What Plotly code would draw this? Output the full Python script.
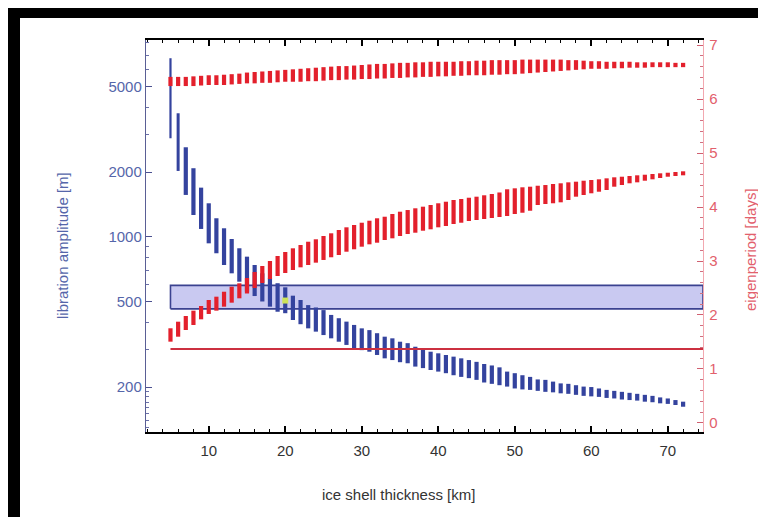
import plotly.graph_objects as go

# ---------------- data ----------------
thickness_km = list(range(5, 73))

# libration amplitude ranges [m] (left, log axis)
libration_hi = [6765, 3752, 2607, 2083, 1692, 1431, 1219, 1095, 976, 884,
                808, 739, 676, 641, 608, 582, 532, 508, 481, 469,
                456, 433, 418, 403, 389, 375, 368, 356, 343, 337,
                325, 320, 308, 303, 292, 287, 282, 277, 272, 267,
                262, 256, 252, 247, 236, 232, 227, 223, 217, 216,
                212, 208, 207, 204, 201, 200, 197, 194, 192, 190,
                188, 186, 184, 182, 179, 177, 174, 171]
libration_lo = [2871, 2023, 1565, 1262, 1087, 932, 838, 739, 676, 618,
                555, 530, 500, 473, 448, 441, 410, 392, 375, 362,
                349, 337, 325, 314, 303, 297, 292, 282, 272, 267,
                261, 258, 249, 245, 240, 236, 232, 227, 223, 220,
                216, 210, 207, 204, 201, 197, 195, 194, 192, 190,
                189, 187, 186, 184, 182, 181, 180, 178, 177, 175,
                174, 173, 171, 170, 168, 167, 165, 162]

# eigenperiod ranges [days] (right axis) - lower branch
period_low_hi = [1.754, 1.876, 1.981, 2.080, 2.167, 2.278, 2.339, 2.431, 2.524, 2.587,
                 2.685, 2.796, 2.907, 3.000, 3.093, 3.167, 3.235, 3.296, 3.357, 3.402,
                 3.463, 3.513, 3.574, 3.624, 3.667, 3.709, 3.746, 3.791, 3.820, 3.870,
                 3.913, 3.944, 3.976, 4.006, 4.037, 4.069, 4.098, 4.130, 4.148, 4.172,
                 4.191, 4.217, 4.241, 4.269, 4.328, 4.346, 4.365, 4.376, 4.394, 4.407,
                 4.426, 4.439, 4.457, 4.469, 4.487, 4.500, 4.513, 4.531, 4.550, 4.561,
                 4.574, 4.587, 4.598, 4.611, 4.624, 4.635, 4.648, 4.661]
period_low_lo = [1.506, 1.598, 1.722, 1.815, 1.920, 2.019, 2.080, 2.154, 2.228, 2.309,
                 2.398, 2.500, 2.593, 2.667, 2.722, 2.778, 2.833, 2.883, 2.926, 2.969,
                 3.019, 3.069, 3.111, 3.172, 3.217, 3.265, 3.309, 3.339, 3.389, 3.420,
                 3.463, 3.500, 3.524, 3.561, 3.587, 3.624, 3.648, 3.685, 3.709, 3.741,
                 3.759, 3.778, 3.796, 3.815, 3.833, 3.870, 3.894, 3.931, 4.037, 4.056,
                 4.069, 4.087, 4.130, 4.191, 4.222, 4.254, 4.283, 4.315, 4.376, 4.407,
                 4.439, 4.457, 4.487, 4.513, 4.537, 4.561, 4.574, 4.587]

# eigenperiod ranges [days] (right axis) - upper branch
period_up_hi = [6.41, 6.41, 6.41, 6.42, 6.43, 6.44, 6.44, 6.45, 6.46, 6.47,
                6.49, 6.50, 6.51, 6.52, 6.53, 6.54, 6.55, 6.56, 6.57, 6.58,
                6.59, 6.60, 6.61, 6.61, 6.62, 6.63, 6.64, 6.65, 6.65, 6.66,
                6.67, 6.67, 6.68, 6.68, 6.69, 6.69, 6.69, 6.69, 6.70, 6.70,
                6.71, 6.71, 6.72, 6.72, 6.72, 6.72, 6.73, 6.73, 6.73, 6.73,
                6.73, 6.73, 6.72, 6.72, 6.71, 6.70, 6.70, 6.69, 6.69, 6.69,
                6.69, 6.68, 6.68, 6.68, 6.68, 6.68, 6.67, 6.67]
period_up_lo = [6.24, 6.24, 6.24, 6.24, 6.25, 6.26, 6.26, 6.26, 6.27, 6.28,
                6.29, 6.29, 6.30, 6.30, 6.31, 6.32, 6.32, 6.32, 6.33, 6.33,
                6.34, 6.35, 6.35, 6.36, 6.36, 6.37, 6.37, 6.38, 6.38, 6.39,
                6.39, 6.40, 6.40, 6.41, 6.41, 6.42, 6.42, 6.43, 6.43, 6.44,
                6.44, 6.44, 6.45, 6.45, 6.46, 6.46, 6.47, 6.48, 6.49, 6.50,
                6.51, 6.52, 6.53, 6.54, 6.55, 6.56, 6.56, 6.56, 6.57, 6.57,
                6.58, 6.58, 6.58, 6.59, 6.59, 6.59, 6.59, 6.59]

observed_libration = [462, 594]     # m, observed band
orbital_period = 1.37               # days
nominal_point = (20, 505)           # km, m

x_range = [1.8, 74.6]
x_ticks = [10, 20, 30, 40, 50, 60, 70]
y_ticks = [200, 500, 1000, 2000, 5000]
y_minor = [130, 140, 150, 160, 170, 180, 190, 300, 400, 600, 700, 800, 900,
           3000, 4000, 6000, 7000, 8000]
y2_ticks = [0, 1, 2, 3, 4, 5, 6, 7]

# ---------------- helpers ----------------
def segments(xs, lo, hi):
    X, Y = [], []
    for x, a, b in zip(xs, lo, hi):
        X += [x, x, None]
        Y += [a, b, None]
    return X, Y

BLUE = '#34439e'
RED = '#e3202c'
FONT = 'Liberation Sans, Arial, Helvetica, sans-serif'

fig = go.Figure()

band_x = [thickness_km[0], x_range[1], x_range[1], thickness_km[0], thickness_km[0]]
band_y = [observed_libration[0], observed_libration[0], observed_libration[1],
          observed_libration[1], observed_libration[0]]
fig.add_trace(go.Scatter(x=band_x, y=band_y, mode='lines', fill='toself',
                         fillcolor='rgba(192,192,238,0.85)',
                         line=dict(color='#3b4290', width=1.6),
                         hoverinfo='skip', showlegend=False))

# first two (thin) libration bars, then the rest
bx, by = segments(thickness_km[:1], libration_lo[:1], libration_hi[:1])
fig.add_trace(go.Scatter(x=bx, y=by, mode='lines',
                         line=dict(color=BLUE, width=2.2), showlegend=False))
bx, by = segments(thickness_km[1:2], libration_lo[1:2], libration_hi[1:2])
fig.add_trace(go.Scatter(x=bx, y=by, mode='lines',
                         line=dict(color=BLUE, width=3.0), showlegend=False))
bx, by = segments(thickness_km[2:], libration_lo[2:], libration_hi[2:])
fig.add_trace(go.Scatter(x=bx, y=by, mode='lines',
                         line=dict(color=BLUE, width=4.2), showlegend=False))

fig.add_trace(go.Scatter(x=[nominal_point[0]], y=[nominal_point[1]], mode='markers',
                         marker=dict(symbol='square', size=6, color='#cde35a',
                                     line=dict(width=0)),
                         showlegend=False))

fig.add_trace(go.Scatter(x=[thickness_km[0], x_range[1]],
                         y=[orbital_period, orbital_period], yaxis='y2', mode='lines',
                         line=dict(color='#cc3040', width=1.8), showlegend=False))

rx, ry = segments(thickness_km, period_low_lo, period_low_hi)
fig.add_trace(go.Scatter(x=rx, y=ry, yaxis='y2', mode='lines',
                         line=dict(color=RED, width=4.2), showlegend=False))
ux, uy = segments(thickness_km, period_up_lo, period_up_hi)
fig.add_trace(go.Scatter(x=ux, y=uy, yaxis='y2', mode='lines',
                         line=dict(color=RED, width=4.2), showlegend=False))

# page geometry (the page body adds an 8 px offset before the figure)
OFF = 8
W, H = 766 - 2 * OFF, 517 - OFF
L, R, T, B = 146, 703, 40, 432          # plot frame in page pixels

def px(xp):
    return (xp - L) / (R - L)

def py(yp):
    return (B - yp) / (B - T)

fig.update_layout(
    width=W, height=H,
    margin=dict(l=L - OFF, r=W - (R - OFF), t=T - OFF, b=H - (B - OFF)),
    paper_bgcolor='black', plot_bgcolor='white',
    font=dict(family=FONT, size=15, color='#333333'),
    showlegend=False,
    xaxis=dict(range=x_range, tickvals=x_ticks, ticks='inside', ticklen=6,
               tickwidth=1.5, tickcolor='black', showline=True, linecolor='black',
               linewidth=1.5, mirror='ticks', showgrid=False, zeroline=False,
               ticklabelstandoff=4,
               tickfont=dict(size=15, color='#333333'),
               minor=dict(dtick=2, tick0=0, ticks='inside', ticklen=3,
                          tickcolor='black', tickwidth=1.2)),
    yaxis=dict(type='log', range=[2.092, 3.915], tickvals=y_ticks,
               ticktext=[str(v) for v in y_ticks], ticks='inside', ticklen=6,
               tickwidth=1.3, tickcolor='#4a5090', showline=True,
               linecolor='#5a5f95', linewidth=1.4, showgrid=False, zeroline=False,
               tickfont=dict(size=15, color='#5566aa'),
               minor=dict(tickvals=y_minor, ticks='inside', ticklen=3,
                          tickcolor='#6a70a8', tickwidth=1)),
    yaxis2=dict(overlaying='y', side='right', range=[-0.167, 7.093],
                tickvals=y2_ticks, ticks='inside', ticklen=6, tickwidth=1.3,
                tickcolor='#d06070', showline=True, linecolor='#f2a8b0',
                linewidth=1.4, showgrid=False, zeroline=False,
                ticklabelstandoff=2,
                tickfont=dict(size=15, color='#e2606c'),
                minor=dict(dtick=0.2, tick0=0, ticks='inside', ticklen=3,
                           tickcolor='#d07080', tickwidth=1)),
    shapes=[dict(type='rect', xref='paper', yref='paper', layer='below',
                 x0=px(20), x1=px(800), y0=py(560), y1=py(18),
                 fillcolor='white', line=dict(width=0))],
    annotations=[
        dict(text='ice shell thickness [km]', xref='paper', yref='paper',
             x=px(398), y=py(494), showarrow=False, xanchor='center',
             yanchor='middle', font=dict(size=15, color='#333333')),
        dict(text='libration amplitude [m]', xref='paper', yref='paper',
             x=px(62), y=py(246), showarrow=False, textangle=-90,
             xanchor='center', yanchor='middle',
             font=dict(size=15, color='#5566aa')),
        dict(text='eigenperiod [days]', xref='paper', yref='paper',
             x=px(750), y=py(250), showarrow=False, textangle=-90,
             xanchor='center', yanchor='middle',
             font=dict(size=15, color='#e2606c')),
    ],
)

fig.write_html('out.html')
